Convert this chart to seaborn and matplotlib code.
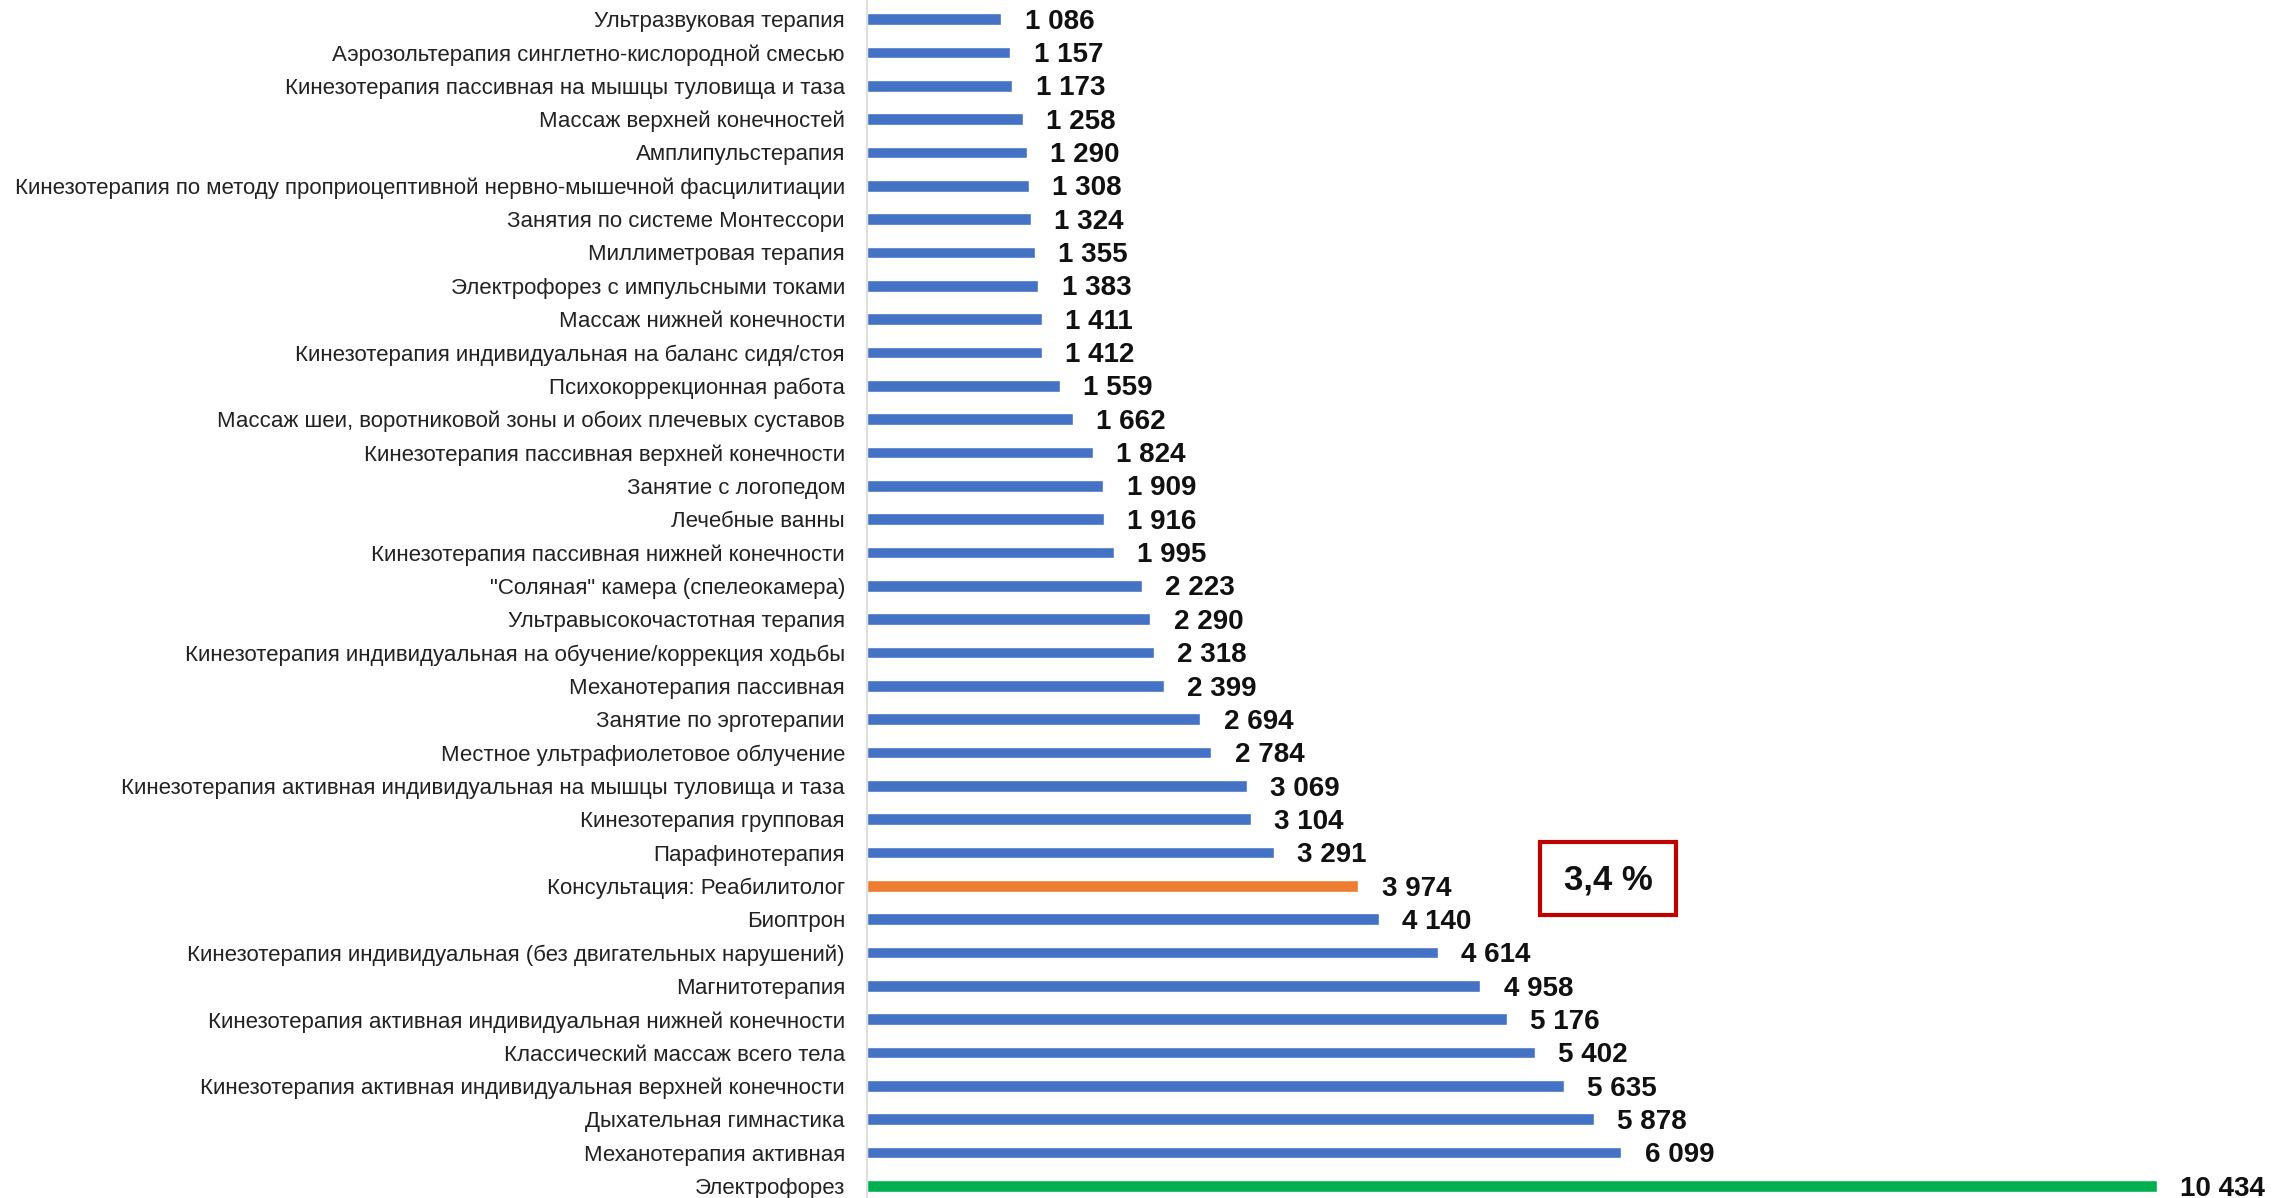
import matplotlib
matplotlib.use("Agg")
import matplotlib.pyplot as plt
import pandas as pd
import seaborn as sns
from matplotlib.patches import Rectangle

# procedures, top to bottom
procedures = [
    "Ультразвуковая терапия",
    "Аэрозольтерапия синглетно-кислородной смесью",
    "Кинезотерапия пассивная на мышцы туловища и таза",
    "Массаж верхней конечностей",
    "Амплипульстерапия",
    "Кинезотерапия по методу проприоцептивной нервно-мышечной фасцилитиации",
    "Занятия по системе Монтессори",
    "Миллиметровая терапия",
    "Электрофорез с импульсными токами",
    "Массаж нижней конечности",
    "Кинезотерапия индивидуальная на баланс сидя/стоя",
    "Психокоррекционная работа",
    "Массаж шеи, воротниковой зоны и обоих плечевых суставов",
    "Кинезотерапия пассивная верхней конечности",
    "Занятие с логопедом",
    "Лечебные ванны",
    "Кинезотерапия пассивная нижней конечности",
    "\"Соляная\" камера (спелеокамера)",
    "Ультравысокочастотная терапия",
    "Кинезотерапия индивидуальная на обучение/коррекция ходьбы",
    "Механотерапия пассивная",
    "Занятие по эрготерапии",
    "Местное ультрафиолетовое облучение",
    "Кинезотерапия активная индивидуальная на мышцы туловища и таза",
    "Кинезотерапия групповая",
    "Парафинотерапия",
    "Консультация: Реабилитолог",
    "Биоптрон",
    "Кинезотерапия индивидуальная (без двигательных нарушений)",
    "Магнитотерапия",
    "Кинезотерапия активная индивидуальная нижней конечности",
    "Классический массаж всего тела",
    "Кинезотерапия активная индивидуальная верхней конечности",
    "Дыхательная гимнастика",
    "Механотерапия активная",
    "Электрофорез",
]
counts = [
    1086, 1157, 1173, 1258, 1290, 1308, 1324, 1355, 1383, 1411, 1412, 1559,
    1662, 1824, 1909, 1916, 1995, 2223, 2290, 2318, 2399, 2694, 2784, 3069,
    3104, 3291, 3974, 4140, 4614, 4958, 5176, 5402, 5635, 5878, 6099, 10434,
]
highlight = "Консультация: Реабилитолог"
top_item = "Электрофорез"
share_text = "3,4 %"

BLUE = "#4472C4"
ORANGE = "#ED7D31"
GREEN = "#00B050"

frame = pd.DataFrame({"procedure": procedures, "count": counts})
palette = {
    p: ORANGE if p == highlight else GREEN if p == top_item else BLUE
    for p in procedures
}

sns.set_theme(style="white")
plt.rcParams["font.family"] = ["Liberation Sans", "DejaVu Sans"]

fig = plt.figure(figsize=(22.85, 11.98), dpi=100)
ax = fig.add_axes([0.3795, 0.0, 0.6205, 1.0])

sns.barplot(
    data=frame,
    x="count",
    y="procedure",
    hue="procedure",
    palette=palette,
    legend=False,
    orient="h",
    width=0.35,
    saturation=1,
    ax=ax,
)

ax.set_xlim(0, 11470)
ax.set_ylim(35.36, -0.57)
ax.set_xlabel("")
ax.set_ylabel("")
ax.set_xticks([])
ax.tick_params(axis="y", length=0, pad=16, labelsize=16, labelcolor="#222222")
for side in ["top", "right", "bottom"]:
    ax.spines[side].set_visible(False)
ax.spines["left"].set_color("#D9D9D9")
ax.spines["left"].set_linewidth(1.2)

for idx, value in enumerate(counts):
    label = f"{value:,}".replace(",", " ")
    ax.text(
        value + 190, idx + 0.08, label,
        ha="left", va="center", fontsize=20, fontweight="bold", color="#111111",
    )

# share annotation box
fig.add_artist(Rectangle(
    (1540 / 2285, 1 - 915 / 1198), 136 / 2285, 73 / 1198,
    transform=fig.transFigure, fill=False, edgecolor="#C00000", linewidth=3,
))
fig.text(1608 / 2285, 1 - 880 / 1198, share_text, ha="center", va="center",
         fontsize=25, fontweight="bold", color="#111111")

plt.savefig("out.png", dpi=100, facecolor="white")
plt.close()
